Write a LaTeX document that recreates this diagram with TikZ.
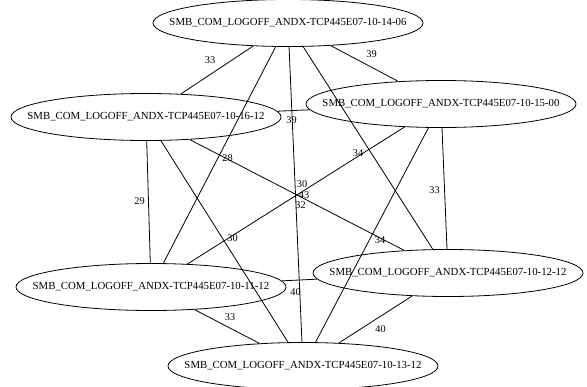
\documentclass[tikz,border=0pt]{standalone}
\usepackage{fontspec}
\setmainfont{Liberation Serif}
\usetikzlibrary{shapes.geometric}
\newcommand{\hostname}[1]{\makebox[0pt]{SMB\_COM\_LOGOFF\_ANDX-TCP445E07-10-#1}}

\begin{document}
\begin{tikzpicture}[x=1pt, y=-1pt, line width=0.8pt,
    host/.style={draw, ellipse, minimum width=270pt, minimum height=47pt, inner sep=0pt, font=\fontsize{10.8}{12}\selectfont},
    lbl/.style={font=\fontsize{10.3}{12}\selectfont, inner sep=0pt}]
  \useasboundingbox (0,0) rectangle (587,386);
  \node[host] (t1406) at (288,23) {\hostname{14-06}};
  \node[host] (t1612) at (146,117) {\hostname{16-12}};
  \node[host] (t1500) at (441,104) {\hostname{15-00}};
  \node[host] (t1112) at (151,287) {\hostname{11-12}};
  \node[host] (t1212) at (448,273) {\hostname{12-12}};
  \node[host] (t1312) at (303,366) {\hostname{13-12}};
  % edges
  \draw (t1406) -- node[lbl, shift={(-7,-10)}] {33} (t1612);
  \draw (t1406) -- node[lbl, shift={(7,-9)}] {39} (t1500);
  \draw (t1406) -- node[lbl, shift={(8,3)}] {28} (t1112);
  \draw (t1406) -- node[lbl, shift={(-10,5)}] {34} (t1212);
  \draw (t1406) -- node[lbl, shift={(5,11)}] {32} (t1312);
  \draw (t1612) -- node[lbl, shift={(-2,10)}] {39} (t1500);
  \draw (t1612) -- node[lbl, shift={(-9,-1)}] {29} (t1112);
  \draw (t1612) -- node[lbl, shift={(5,-11)}] {30} (t1212);
  \draw (t1612) -- node[lbl, shift={(8,-3)}] {30} (t1312);
  \draw (t1500) -- node[lbl, shift={(8,0)}] {43} (t1112);
  \draw (t1500) -- node[lbl, shift={(-10,2)}] {33} (t1212);
  \draw (t1500) -- node[lbl, shift={(8,5)}] {34} (t1312);
  \draw (t1112) -- node[lbl, shift={(-4,12)}] {40} (t1212);
  \draw (t1112) -- node[lbl, shift={(3,-9)}] {33} (t1312);
  \draw (t1212) -- node[lbl, shift={(5,10)}] {40} (t1312);
\end{tikzpicture}
\end{document}
